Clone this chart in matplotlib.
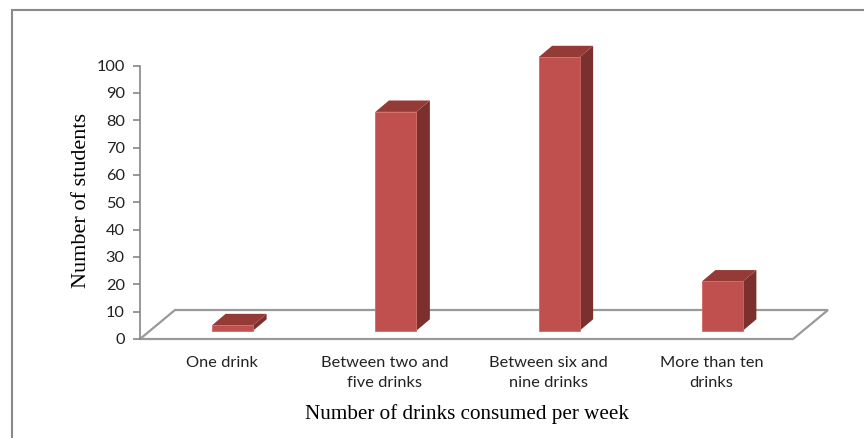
import matplotlib
matplotlib.use("Agg")
import matplotlib.pyplot as plt
from matplotlib.lines import Line2D

categories = ["One drink", "Between two and\nfive drinks", "Between six and\nnine drinks", "More than ten\ndrinks"]
values = [2, 80, 100, 18]
yticks = [0, 10, 20, 30, 40, 50, 60, 70, 80, 90, 100]
x_title = "Number of drinks consumed per week"
y_title = "Number of students"

W, H = 864, 438
fig = plt.figure(figsize=(W / 100, H / 100), dpi=100)
fig.patch.set_facecolor("white")

x0, x1 = 140, 793
y0, y1 = 339, 65.5
ax = fig.add_axes([x0 / W, (H - y0) / H, (x1 - x0) / W, (y0 - y1) / H])
ax.set_xlim(0, 4)
ax.set_ylim(0, 100)
ax.set_facecolor("none")

pxx = (x1 - x0) / 4.0      # px per category
pxy = (y0 - y1) / 100.0    # px per unit

# floor depth
fdx, fdy = 35 / pxx, 29 / pxy
# bar front offset and depth
bdx0, bdy0 = 11 / pxx, 8.3 / pxy
bdx, bdy = 13.5 / pxx, 11.4 / pxy
bw = 41 / pxx

gray = "#9a9a9a"
# floor
ax.fill([0, 4, 4 + fdx, fdx], [0, 0, fdy, fdy], facecolor="white", edgecolor=gray,
        linewidth=1.6, clip_on=False, zorder=1)

front_c = "#c0504d"
side_c = "#7b302e"
top_c = "#943a37"
for i, v in enumerate(values):
    xl = i + 0.5 - bw / 2 + bdx0
    xr = xl + bw
    yb = bdy0
    yt = bdy0 + v
    # side
    ax.fill([xr, xr + bdx, xr + bdx, xr], [yb, yb + bdy, yt + bdy, yt],
            facecolor=side_c, edgecolor="none", clip_on=False, zorder=3)
    # top
    ax.fill([xl, xr, xr + bdx, xl + bdx], [yt, yt, yt + bdy, yt + bdy],
            facecolor=top_c, edgecolor="none", clip_on=False, zorder=3)
    # front
    ax.fill([xl, xr, xr, xl], [yb, yb, yt, yt],
            facecolor=front_c, edgecolor="#d06a66", linewidth=0.6, clip_on=False, zorder=4)

for s in ["top", "right", "bottom"]:
    ax.spines[s].set_visible(False)
ax.spines["left"].set_color("#868686")
ax.spines["left"].set_linewidth(1.2)

tick_font = "Lato"
ax.set_yticks(yticks)
ax.set_yticklabels([str(t) for t in yticks], fontname=tick_font, fontsize=11.8, color="#222222")
ax.tick_params(axis="y", direction="out", length=5, width=1.2, color="#868686", pad=6)
ax.set_xticks([i + 0.5 for i in range(len(categories))])
ax.set_xticklabels(categories, fontname=tick_font, fontsize=11.8, color="#222222",
                   multialignment="center", linespacing=1.55)
ax.tick_params(axis="x", length=0, pad=12)

fig.text(81 / W, 1 - 201 / H, y_title, rotation=90, ha="center", va="center",
         fontname="Liberation Serif", fontsize=16, color="black")
fig.text(467 / W, 1 - 414 / H, x_title, ha="center", va="center",
         fontname="Liberation Serif", fontsize=15.2, color="black")

# chart frame (left and top edges visible)
fig.add_artist(Line2D([12 / W, 12 / W], [0, 1 - 10 / H], transform=fig.transFigure,
                      color="#8a8a8a", linewidth=1.5))
fig.add_artist(Line2D([12 / W, 1], [1 - 10 / H, 1 - 10 / H], transform=fig.transFigure,
                      color="#8a8a8a", linewidth=1.5))

fig.savefig("out.png", dpi=100, facecolor="white")
